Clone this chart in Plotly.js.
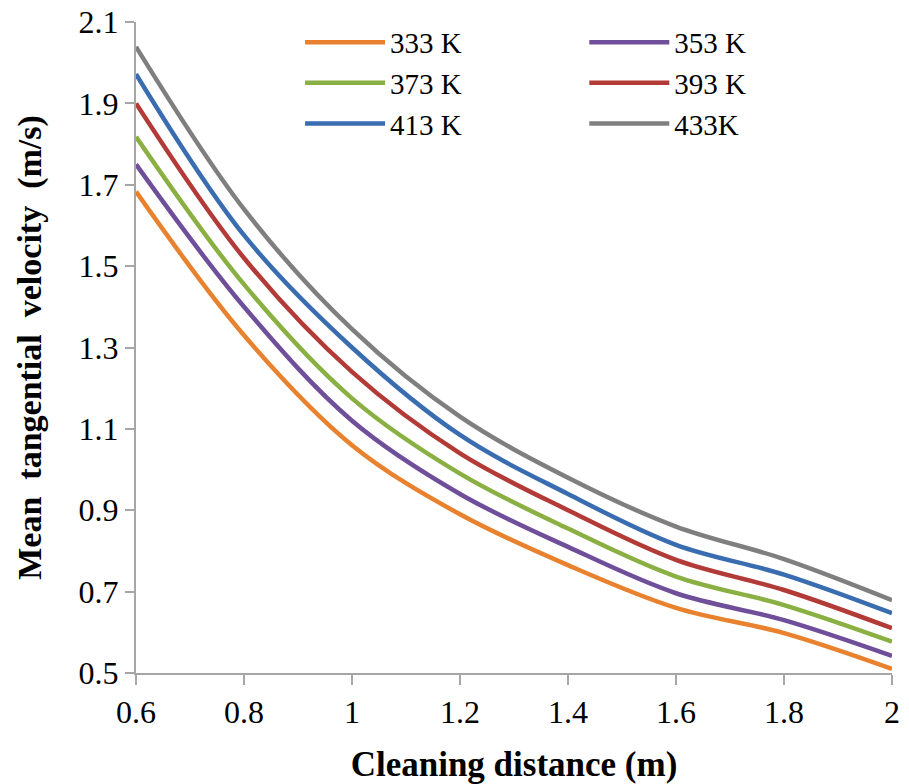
<!DOCTYPE html>
<html>
<head>
<meta charset="utf-8">
<script src="https://cdn.plot.ly/plotly-3.0.1.min.js"></script>
<style>
  html, body { margin: 0; padding: 0; background: #fff; }
  #chart { width: 909px; height: 784px; }
</style>
</head>
<body>
<div id="chart"></div>
<script>
// Cleaning distance (m)
const distance = [0.6, 0.8, 1.0, 1.2, 1.4, 1.6, 1.8, 2.0];

// Mean tangential velocity (m/s) for each temperature
const v333 = [1.683, 1.330, 1.060, 0.890, 0.765, 0.660, 0.598, 0.510];
const v353 = [1.750, 1.400, 1.120, 0.940, 0.810, 0.696, 0.630, 0.542];
const v373 = [1.818, 1.455, 1.175, 0.990, 0.855, 0.737, 0.667, 0.577];
const v393 = [1.900, 1.520, 1.240, 1.040, 0.900, 0.778, 0.704, 0.610];
const v413 = [1.972, 1.576, 1.300, 1.085, 0.940, 0.815, 0.742, 0.647];
const v433 = [2.039, 1.640, 1.345, 1.130, 0.980, 0.860, 0.780, 0.679];

const seriesNames = ['333 K', '353 K', '373 K', '393 K', '413 K', '433K'];
const seriesValues = [v333, v353, v373, v393, v413, v433];
const seriesColors = ['#E8822E', '#6F4E9A', '#8AB043', '#B33B37', '#3A6DB0', '#7F7F7F'];
// left legend column holds 333/373/413, right column 353/393/433
const legendOf = ['legend', 'legend2', 'legend', 'legend2', 'legend', 'legend2'];

const yTicks = [0.5, 0.7, 0.9, 1.1, 1.3, 1.5, 1.7, 1.9, 2.1];
const xTicks = [0.6, 0.8, 1.0, 1.2, 1.4, 1.6, 1.8, 2.0];

const serif = 'Liberation Serif, Times New Roman, serif';
const gap = '\u00a0\u00a0';

const traces = seriesNames.map((name, i) => ({
  x: distance,
  y: seriesValues[i],
  name: name,
  type: 'scatter',
  mode: 'lines',
  line: { color: seriesColors[i], width: 4.5, shape: 'spline', smoothing: 1 },
  legend: legendOf[i],
  legendgroup: 'g' + i,
  hoverinfo: 'x+y+name'
}));

const legendStyle = {
  font: { family: serif, size: 29, color: '#000' },
  bgcolor: 'rgba(0,0,0,0)',
  borderwidth: 0,
  orientation: 'v',
  itemwidth: 80,
  tracegroupgap: 0,
  yanchor: 'top',
  xanchor: 'left',
  y: 1.008
};

const layout = {
  width: 909,
  height: 784,
  margin: { l: 136, r: 17, t: 22, b: 111 },
  paper_bgcolor: '#fff',
  plot_bgcolor: '#fff',
  font: { family: serif, color: '#000' },
  xaxis: {
    range: [0.6, 2.0],
    tickvals: xTicks,
    ticktext: xTicks.map(v => String(+v.toFixed(1))),
    showgrid: false,
    zeroline: false,
    showline: true,
    linecolor: '#A6A6A6',
    linewidth: 2,
    ticks: 'outside',
    ticklen: 10,
    tickwidth: 2,
    tickcolor: '#A6A6A6',
    tickfont: { family: serif, size: 32, color: '#000' },
    title: {
      text: 'Cleaning distance (m)',
      font: { family: serif, size: 35, color: '#000', weight: 'bold' },
      standoff: 22
    }
  },
  yaxis: {
    range: [0.5, 2.1],
    tickvals: yTicks,
    ticktext: yTicks.map(v => v.toFixed(1)),
    showgrid: false,
    zeroline: false,
    showline: true,
    linecolor: '#A6A6A6',
    linewidth: 2,
    ticks: 'outside',
    ticklen: 9,
    tickwidth: 2,
    tickcolor: '#A6A6A6',
    tickfont: { family: serif, size: 32, color: '#000' },
    title: {
      text: 'Mean' + gap + 'tangential' + gap + 'velocity' + gap + '(m/s)',
      font: { family: serif, size: 34, color: '#000', weight: 'bold' },
      standoff: 27
    }
  },
  legend: Object.assign({}, legendStyle, { x: 0.217 }),
  legend2: Object.assign({}, legendStyle, { x: 0.593 }),
  showlegend: true
};

Plotly.newPlot('chart', traces, layout, { displayModeBar: false, staticPlot: true });
</script>
</body>
</html>
